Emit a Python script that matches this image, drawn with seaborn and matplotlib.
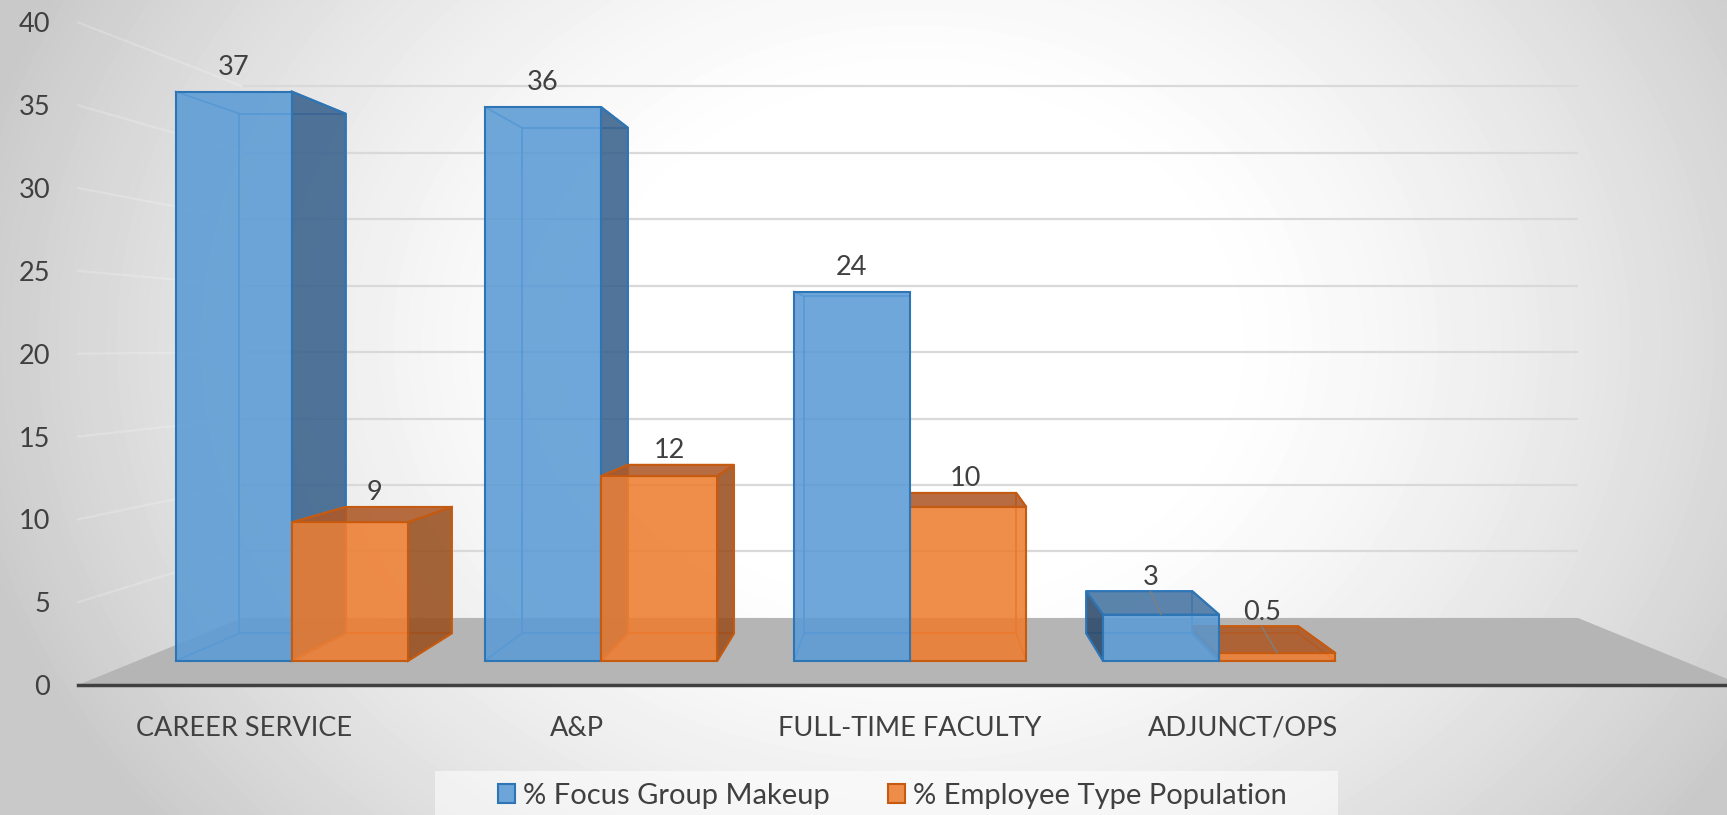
import numpy as np
import pandas as pd
import matplotlib
matplotlib.use("Agg")
import matplotlib.pyplot as plt
from matplotlib.patches import Polygon, Patch, Rectangle
from matplotlib.colors import to_rgb, to_rgba
import seaborn as sns

# ---- data -------------------------------------------------------------
categories = ["CAREER SERVICE", "A&P", "FULL-TIME FACULTY", "ADJUNCT/OPS"]
focus_group_pct = [37, 36, 24, 3]
employee_type_pct = [9, 12, 10, 0.5]
series = ["% Focus Group Makeup", "% Employee Type Population"]
y_ticks = [0, 5, 10, 15, 20, 25, 30, 35, 40]

df = pd.DataFrame({
    "category": categories * 2,
    "value": focus_group_pct + employee_type_pct,
    "series": [series[0]] * len(categories) + [series[1]] * len(categories),
})

# ---- style ------------------------------------------------------------
sns.set_theme(style="white")
plt.rcParams["font.family"] = ["Lato", "DejaVu Sans"]
TEXT = "#404040"
FS = 19.5
FS_LEG = 21

FACE = {series[0]: "#5b9bd5", series[1]: "#ed7d31"}
EDGE = {series[0]: "#2e75b6", series[1]: "#c55a11"}
SIDE = {series[0]: "#39618c", series[1]: "#994f1f"}
SIDE_L = {series[0]: "#2b496a", series[1]: "#7f4219"}
TOP = {series[0]: "#4573a0", series[1]: "#ae5826"}
INNER = {series[0]: "#4a8fd0", series[1]: "#d96c24"}
ALPHA = 0.88

# ---- perspective set-up (bar front plane = data plane of `ax`) ---------
XV, YV = 2.0, 20.5            # vanishing point
K_FLOOR_FRONT = 1.077         # front edge of the floor / value axis
K_BAR_BACK = 0.913            # back faces of the boxes
K_WALL = 0.864                # back wall with gridlines
X_LIM = (-0.944, 4.6425)
Y_LIM = (-10.02, 42.95)


def proj(x, y, k):
    return XV + (np.asarray(x, float) - XV) * k, YV + (np.asarray(y, float) - YV) * k


def to_fig(x, y):
    return ((x - X_LIM[0]) / (X_LIM[1] - X_LIM[0]),
            (y - Y_LIM[0]) / (Y_LIM[1] - Y_LIM[0]))


fig = plt.figure(figsize=(17.27, 8.15), dpi=100)

# ---- radial grey background -------------------------------------------
bg = fig.add_axes([0, 0, 1, 1], zorder=-10)
H, W = 815, 1727
yy, xx = np.mgrid[0:H, 0:W]
cx, cy = 0.53 * W, 0.42 * H
r = np.sqrt(((xx - cx) / (0.56 * W)) ** 2 + ((yy - cy) / (0.95 * H)) ** 2)
t = np.clip((r - 0.3) / 0.7, 0, 1)
shade = 1 - 0.21 * t ** 1.4
bg.imshow(shade, cmap="gray", vmin=0, vmax=1, extent=[0, 1, 0, 1],
          aspect="auto", origin="upper", interpolation="bilinear")
bg.set_xlim(0, 1)
bg.set_ylim(0, 1)
bg.axis("off")

# ---- bars --------------------------------------------------------------
ax = fig.add_axes([0, 0, 1, 1], zorder=1)
ax.patch.set_alpha(0)
sns.barplot(data=df, x="category", y="value", hue="series", palette=FACE,
            width=0.752, saturation=1, errorbar=None, legend=False, ax=ax)
bars = list(ax.patches)
ax.set_xlim(*X_LIM)
ax.set_ylim(*Y_LIM)
ax.axis("off")

# floor
fxs, fys = proj([-0.5, 4.5], [0, 0], K_FLOOR_FRONT)
bxs, bys = proj([-0.5, 4.5], [0, 0], K_WALL)
ax.add_patch(Polygon([(fxs[0], fys[0]), (fxs[1], fys[1]), (bxs[1], bys[1]), (bxs[0], bys[0])],
                     closed=True, fc="#b5b5b5", ec="none", zorder=0.5))

# back wall gridlines and faint side wall lines
for v in y_ticks[1:]:
    gx, gy = proj([-0.5, 4.5], [v, v], K_WALL)
    ax.plot(gx, gy, color="#d9d9d9", lw=1.6, zorder=0.6, solid_capstyle="butt")
    xa, ya = proj(-0.5, v, K_FLOOR_FRONT)
    xb, yb = proj(-0.5, v, K_WALL)
    ax.plot([xa, xb], [ya, yb], color="white", alpha=0.2, lw=1.6, zorder=0.6)


def series_of(p):
    fc = p.get_facecolor()[:3]
    return series[0] if np.allclose(fc, to_rgb(FACE[series[0]]), atol=0.02) else series[1]


bar_series = {id(p): series_of(p) for p in bars}
order = sorted(bars, key=lambda p: -abs(p.get_x() + p.get_width() / 2 - XV))
for rank, p in enumerate(order):
    s = bar_series[id(p)]
    z = 2 + rank
    x0, wd, ht = p.get_x(), p.get_width(), p.get_height()
    x1 = x0 + wd
    fx = [x0, x1, x1, x0]
    fy = [0, 0, ht, ht]
    bx, by = proj(fx, fy, K_BAR_BACK)
    F = list(zip(fx, fy))
    B = list(zip(bx, by))

    # hidden edges, seen through the transparent box
    inner = dict(color=INNER[s], lw=1.3, zorder=z)
    ax.plot(list(bx) + [bx[0]], list(by) + [by[0]], **inner)
    for a, b in zip(F, B):
        ax.plot([a[0], b[0]], [a[1], b[1]], **inner)

    if x1 < XV:
        ax.add_patch(Polygon([F[1], F[2], B[2], B[1]], closed=True,
                             fc=to_rgba(SIDE[s], ALPHA), ec=EDGE[s], lw=1.5, zorder=z + 0.1))
    if x0 > XV:
        ax.add_patch(Polygon([F[0], F[3], B[3], B[0]], closed=True,
                             fc=to_rgba(SIDE_L[s], ALPHA), ec=EDGE[s], lw=1.5, zorder=z + 0.1))
    if ht < YV:
        ax.add_patch(Polygon([F[3], F[2], B[2], B[3]], closed=True,
                             fc=to_rgba(TOP[s], ALPHA), ec=EDGE[s], lw=1.5, zorder=z + 0.2))

    p.set_facecolor(to_rgba(FACE[s], ALPHA))
    p.set_edgecolor(EDGE[s])
    p.set_linewidth(1.5)
    p.set_zorder(z + 0.5)

# value labels
for p in bars:
    ht = p.get_height()
    xc = p.get_x() + p.get_width() / 2
    if ht >= YV:
        lx, ly, off = xc, ht, 24
    else:
        lx, _ = proj(xc, ht, 0.957)
        _, ly = proj(xc, ht, K_BAR_BACK)
        off = 14
    lx, ly = float(lx), float(ly)
    ax.annotate(f"{ht:g}", (lx, ly), xytext=(0, off), textcoords="offset pixels",
                ha="center", va="center", fontsize=FS, color=TEXT, zorder=50)
    if ht < 5:
        # leader line from the label down to the front edge of the lid
        ax.plot([lx, xc], [ly, ht], color="#7f7f7f", lw=1.0, zorder=40)

# ---- value / category axis on the front edge of the floor --------------
lx0, by0 = to_fig(*proj(-0.5, 0, K_FLOOR_FRONT))
rx0, _ = to_fig(*proj(4.5, 0, K_FLOOR_FRONT))
_, ty0 = to_fig(*proj(-0.5, 40, K_FLOOR_FRONT))
axf = fig.add_axes([float(lx0), float(by0), float(rx0 - lx0), float(ty0 - by0)], zorder=3)
axf.patch.set_alpha(0)
axf.set_xlim(-0.5, 4.5)
axf.set_ylim(0, 40)
axf.set_xticks(range(len(categories)), categories)
axf.set_yticks(y_ticks)
axf.tick_params(axis="x", length=0, labelsize=FS, colors=TEXT, pad=22)
axf.tick_params(axis="y", length=0, labelsize=FS, colors=TEXT, pad=20)
for sp in ["left", "top", "right"]:
    axf.spines[sp].set_visible(False)
axf.spines["bottom"].set_color("#404040")
axf.spines["bottom"].set_linewidth(2.5)
axf.grid(False)

# ---- legend -------------------------------------------------------------
fig.patches.append(Rectangle((435 / W, 0), (1338 - 435) / W, 44 / H, transform=fig.transFigure,
                             fc=(1, 1, 1, 0.55), ec="none", zorder=4))
handles = [Patch(fc=to_rgba(FACE[s], ALPHA), ec=EDGE[s], lw=1.5) for s in series]
leg = fig.legend(handles, series, loc="center", bbox_to_anchor=(0.5166, 19 / H),
                 ncol=2, frameon=False, fontsize=FS_LEG, handlelength=0.6, handleheight=0.6,
                 handletextpad=0.25, columnspacing=2.0, borderpad=0.0, labelcolor=TEXT)
leg.set_zorder(5)

fig.savefig("out.png", dpi=100)
